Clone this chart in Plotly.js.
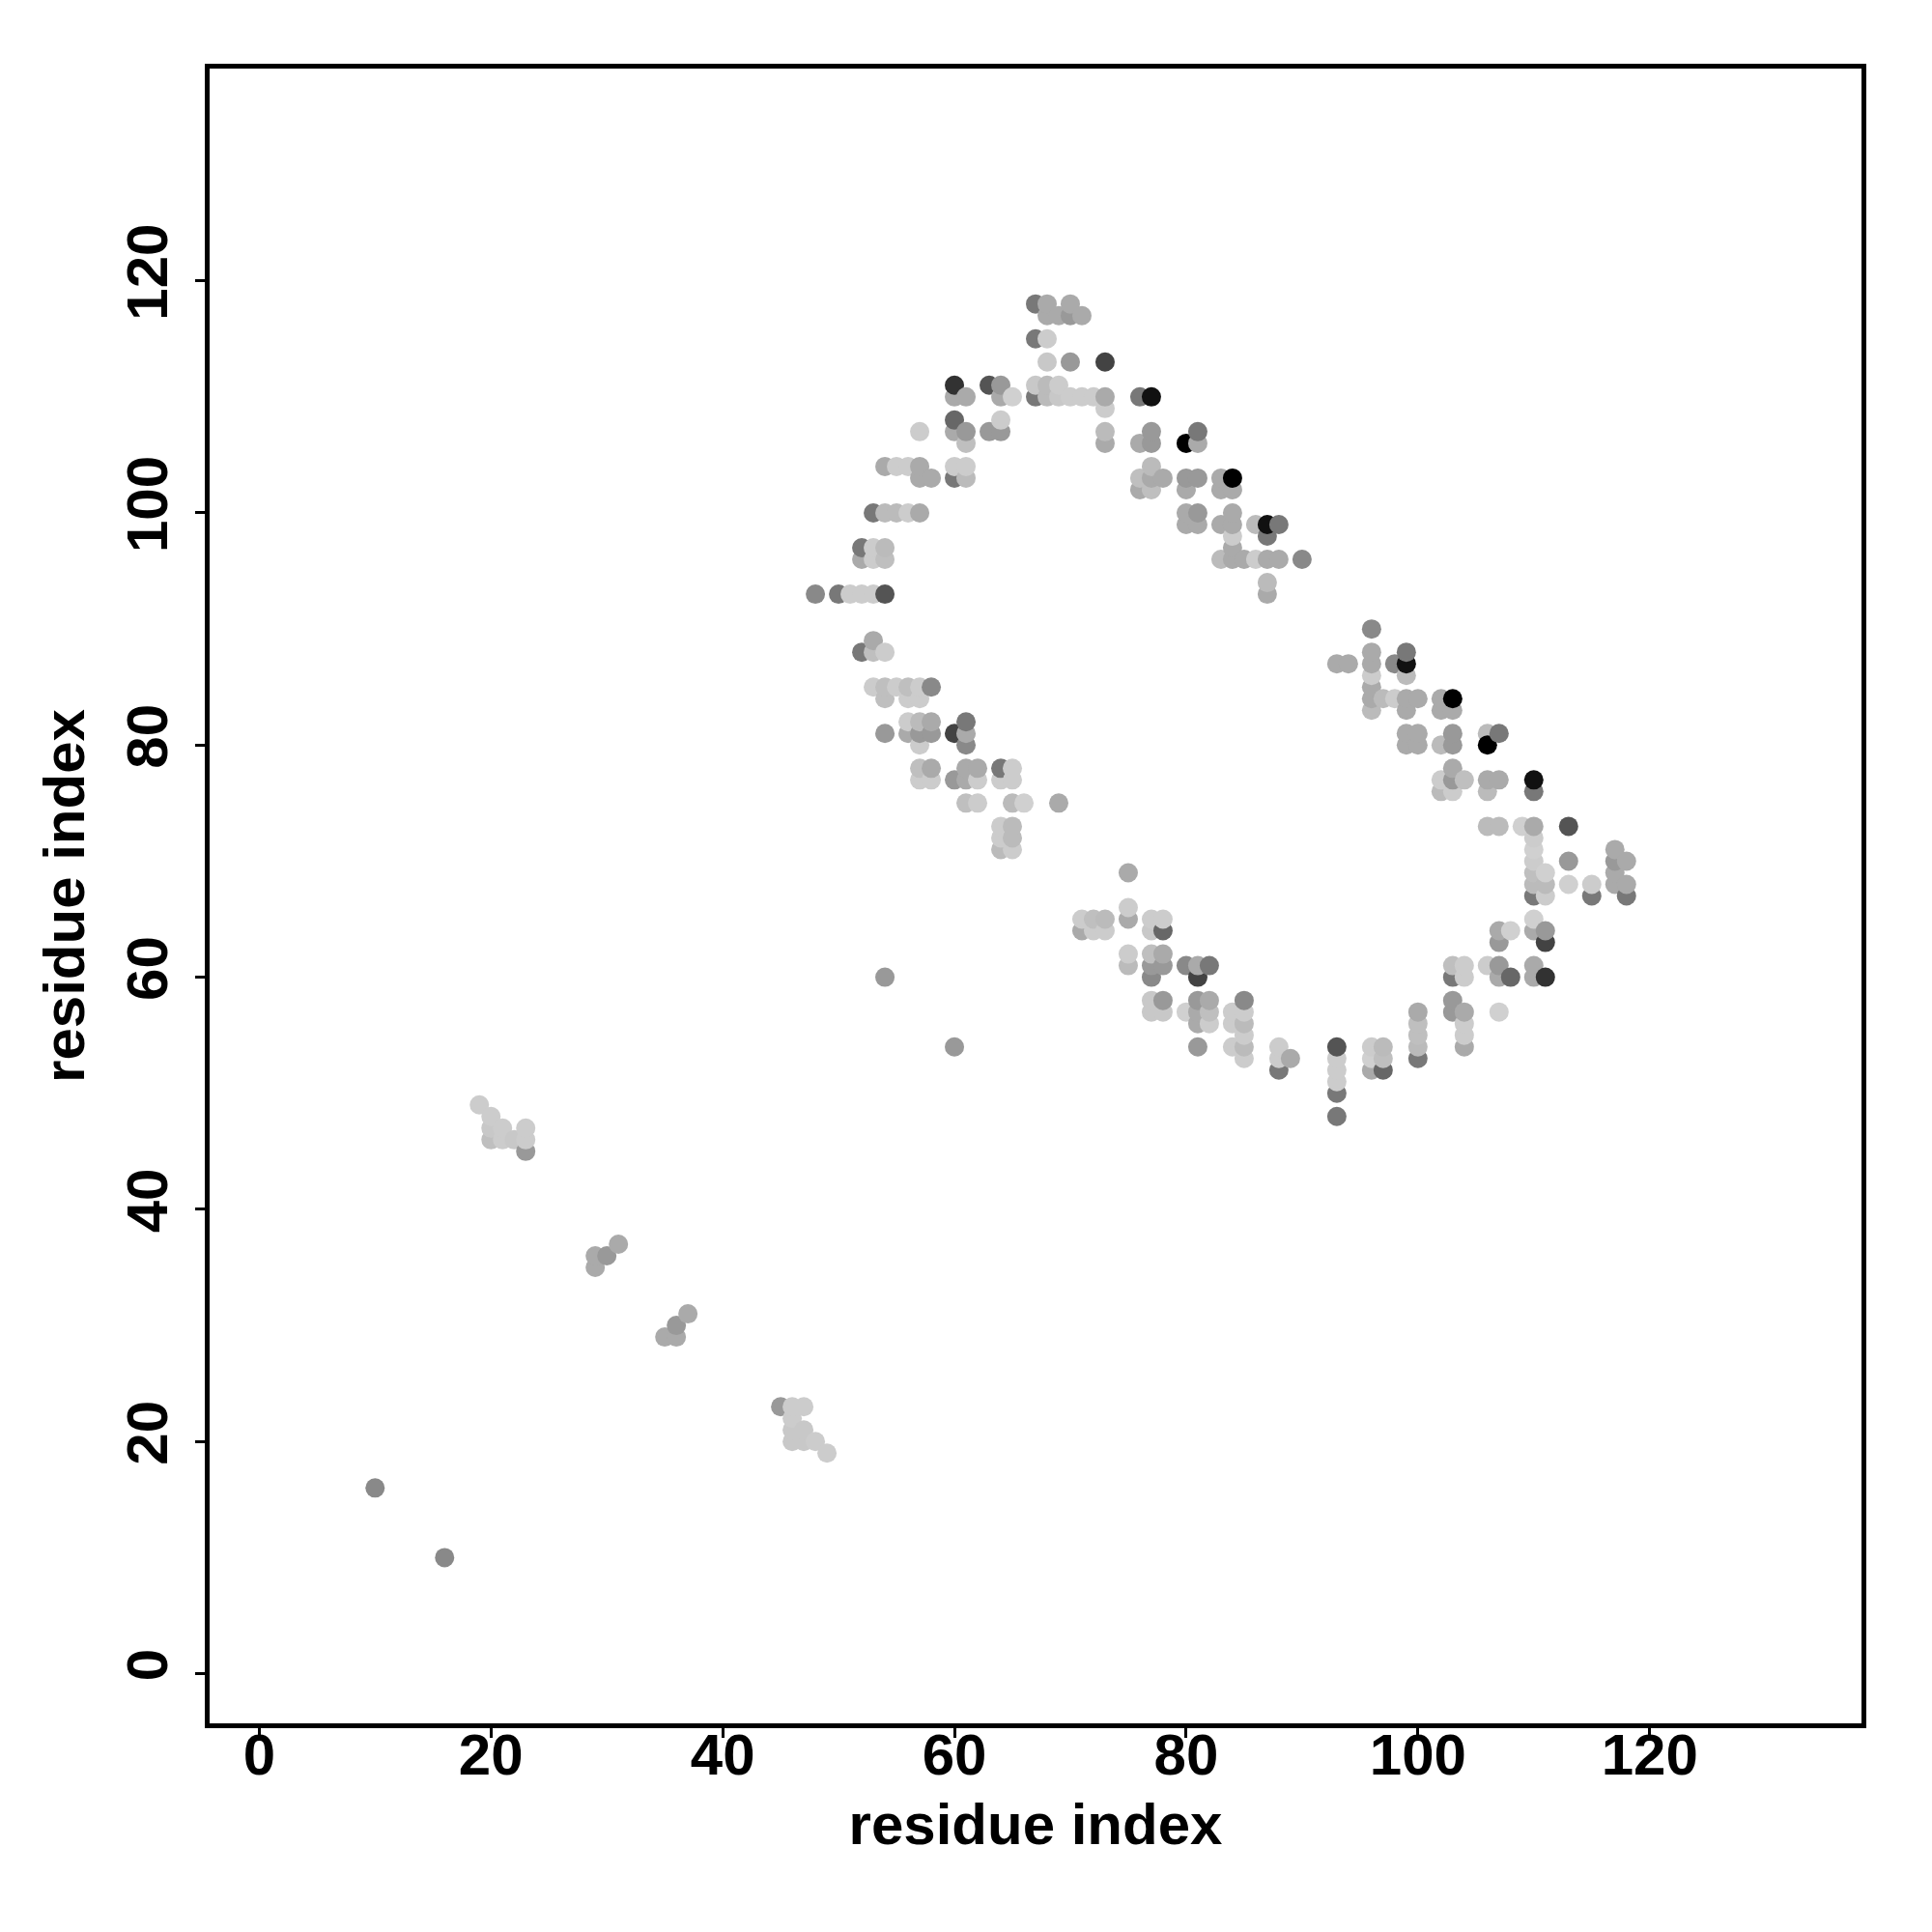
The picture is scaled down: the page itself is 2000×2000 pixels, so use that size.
<!DOCTYPE html>
<html>
<head>
<meta charset="utf-8">
<script src="https://cdn.plot.ly/plotly-3.0.1.min.js"></script>
<style>html,body{margin:0;padding:0;background:#fff;}#plot{width:2000px;height:2000px;}</style>
</head>
<body>
<div id="plot"></div>
<script>
// Contact map: residue i (x), residue j (y), contact strength (0 = weak/light, 1 = strong/black)
const resX = [
  10,
  16,
  19,
  20,20,20,
  21,21,
  22,
  23,23,23,
  29,29,
  30,
  31,
  35,
  36,36,
  37,
  45,
  46,46,46,46,
  47,47,47,
  48,48,
  49,
  50,
  51,
  52,52,52,52,
  53,53,53,53,53,53,53,
  54,54,54,54,54,54,54,54,54,54,
  55,55,55,
  56,56,56,56,56,56,
  57,57,57,57,57,57,57,57,57,57,57,
  58,58,58,58,58,58,
  60,60,60,60,60,60,60,60,60,
  61,61,61,61,61,61,61,61,61,61,61,
  62,62,62,
  63,63,
  64,64,64,64,64,64,64,64,64,
  65,65,65,65,65,65,65,
  66,
  67,67,67,67,
  68,68,68,68,68,68,
  69,69,69,69,
  70,70,70,70,
  71,71,71,71,
  72,72,72,
  73,73,73,73,73,73,73,
  75,75,75,75,75,
  76,76,76,76,
  77,77,77,77,77,77,77,77,77,77,77,77,77,
  78,78,78,78,78,78,78,
  80,80,80,80,80,80,80,
  81,81,81,81,81,81,81,81,81,81,81,
  82,82,82,82,
  83,83,83,83,
  84,84,84,84,84,84,84,84,84,84,
  85,85,85,85,85,85,85,
  86,86,
  87,87,87,87,87,
  88,88,88,88,88,
  89,
  90,
  93,93,93,93,93,93,93,
  94,
  96,96,96,96,96,96,96,96,96,96,
  97,97,97,97,
  98,98,
  99,99,99,99,99,99,99,
  100,100,100,100,100,100,100,100,
  102,102,102,102,102,
  103,103,103,103,103,103,103,103,103,103,103,
  104,104,104,104,104,104,104,
  106,106,106,106,106,106,
  107,107,107,107,107,107,107,107,
  108,108,
  109,
  110,110,110,110,110,110,110,110,110,110,110,110,110,
  111,111,111,111,111,111,
  113,113,113,
  115,115,
  117,117,117,117,
  118,118,118
];
const resY = [
  16,
  10,
  49,
  46,47,48,
  46,47,
  46,
  45,46,47,
  35,36,
  36,
  37,
  29,
  29,30,
  31,
  23,
  20,21,22,23,
  20,21,23,
  20,93,
  19,
  93,
  93,
  88,93,96,97,
  85,88,89,93,96,97,100,
  60,81,84,85,88,93,96,97,100,104,
  85,100,104,
  81,82,84,85,100,104,
  77,78,80,81,82,84,85,100,103,104,107,
  77,78,81,82,85,103,
  54,77,81,103,104,107,108,110,111,
  75,77,78,80,81,82,103,104,106,107,110,
  75,77,78,
  107,111,
  71,72,73,77,78,107,108,110,111,
  71,72,73,75,77,78,110,
  75,
  110,111,115,118,
  110,111,113,115,117,118,
  75,110,111,117,
  110,113,117,118,
  64,65,110,117,
  64,65,110,
  64,65,106,107,109,110,113,
  61,62,65,66,69,
  102,103,106,110,
  57,58,60,61,62,64,65,102,103,104,106,107,110,
  57,58,61,62,64,65,103,
  57,61,99,100,102,103,106,
  54,56,57,58,60,61,99,100,103,106,107,
  56,57,58,61,
  96,99,102,103,
  54,56,57,96,97,98,99,100,102,103,
  53,54,55,56,57,58,96,
  96,99,
  93,94,96,98,99,
  52,53,54,96,99,
  53,
  96,
  48,50,51,52,53,54,87,
  87,
  52,53,54,83,84,85,86,87,88,90,
  52,53,54,84,
  84,87,
  80,81,83,84,86,87,88,
  53,54,55,56,57,80,81,84,
  76,77,80,83,84,
  57,58,60,61,76,77,78,80,81,83,84,
  54,55,56,57,60,61,77,
  61,73,76,77,81,80,
  57,60,61,63,64,73,77,81,
  60,64,
  73,
  60,61,64,65,67,68,69,70,71,72,73,76,77,
  60,63,64,67,68,69,
  68,70,73,
  67,68,
  68,69,70,71,
  67,68,70
];
const strength = [
  .35,
  .35,
  .03,
  .09,.05,.03,
  .03,.03,
  .05,
  .27,.03,.03,
  .19,.19,
  .27,
  .19,
  .19,
  .19,.27,
  .19,
  .27,
  .05,.05,.03,.03,
  .05,.05,.03,
  .03,.35,
  .03,
  .43,
  .03,
  .43,.03,.19,.43,
  .03,.09,.19,.03,.03,.03,.43,
  .27,.27,.09,.09,.03,.60,.09,.11,.11,.19,
  .03,.11,.03,
  .19,.03,.03,.09,.03,.03,
  .03,.09,.03,.27,.11,.03,.03,.19,.19,.19,.03,
  .03,.19,.27,.19,.35,.19,
  .27,.27,.68,.43,.03,.19,.51,.19,.76,
  .09,.19,.19,.35,.19,.43,.11,.03,.09,.27,.19,
  .03,.03,.19,
  .27,.60,
  .11,.03,.03,.03,.43,.27,.03,.19,.27,
  .03,.11,.11,.11,.03,.03,.01,
  .01,
  .43,.05,.43,.43,
  .11,.11,.05,.03,.19,.19,
  .19,.05,.03,.19,
  .03,.27,.27,.19,
  .19,.03,.03,.19,
  .03,.09,.03,
  .03,.11,.19,.11,.03,.19,.68,
  .11,.03,.19,.03,.19,
  .19,.09,.19,.43,
  .05,.05,.35,.27,.09,.05,.03,.09,.19,.11,.27,.27,.92,
  .05,.27,.27,.19,.51,.03,.19,
  .01,.35,.19,.19,.19,.27,1,
  .27,.19,.19,.27,.68,.19,.19,.27,.27,.19,.43,
  .03,.09,.19,.43,
  .11,.19,.19,.19,
  .03,.03,.03,.19,.19,.03,.19,.19,.19,1,
  .03,.11,.03,.11,.03,.35,.19,
  .03,.11,
  .19,.11,.19,.43,.92,
  .43,.03,.03,.19,.43,
  .19,
  .35,
  .43,.43,.03,.03,.03,.60,.19,
  .19,
  .19,.01,.03,.11,.19,.19,.03,.19,.19,.35,
  .51,.09,.11,.11,
  .03,.35,
  .19,.19,.19,.19,.11,.92,.43,
  .43,.11,.09,.09,.19,.19,.19,.19,
  .11,.03,.11,.19,.19,
  .27,.27,.43,.09,.03,.27,.19,.27,.27,.19,1,
  .19,.03,.03,.19,.03,.03,.09,
  .03,.11,.11,.19,.11,1,
  .01,.19,.27,.27,.19,.11,.19,.43,
  .51,.01,
  .01,
  .19,.19,.19,.01,.43,.11,.09,.03,.01,.03,.19,.43,.92,
  .76,.68,.27,.03,.11,.01,
  .01,.27,.60,
  .43,.03,
  .19,.19,.27,.19,
  .43,.19,.19
];
const tickValues = [0, 20, 40, 60, 80, 100, 120];
const axisLabel = 'residue index';

const font = {family: 'Liberation Sans, Arial, sans-serif', size: 60, color: '#000', weight: 'bold'};

const trace = {
  type: 'scatter',
  mode: 'markers',
  x: resX,
  y: resY,
  marker: {
    size: 20,
    color: strength,
    cmin: 0,
    cmax: 1,
    colorscale: [[0, 'rgb(210,210,210)'], [1, 'rgb(0,0,0)']],
    showscale: false,
    line: {width: 0}
  },
  hoverinfo: 'skip'
};

const axisCommon = {
  range: [-4.28, 138.28],
  tickvals: tickValues,
  ticktext: tickValues.map(String),
  ticks: 'outside',
  ticklen: 10,
  tickwidth: 3,
  tickcolor: '#000',
  showline: true,
  mirror: true,
  linewidth: 5,
  linecolor: '#000',
  showgrid: false,
  zeroline: false,
  tickfont: font,
  fixedrange: true
};

const layout = {
  width: 2000,
  height: 2000,
  margin: {l: 217, r: 73, t: 71, b: 216},
  paper_bgcolor: '#fff',
  plot_bgcolor: '#fff',
  showlegend: false,
  hovermode: false,
  xaxis: Object.assign({}, axisCommon, {
    ticklabelstandoff: -34,
    title: {text: axisLabel, font: font, standoff: 19}
  }),
  yaxis: Object.assign({}, axisCommon, {
    tickangle: -90,
    ticklabelstandoff: 5,
    title: {text: axisLabel, font: font, standoff: 14}
  })
};

Plotly.newPlot('plot', [trace], layout, {displayModeBar: false, staticPlot: true});
</script>
</body>
</html>
